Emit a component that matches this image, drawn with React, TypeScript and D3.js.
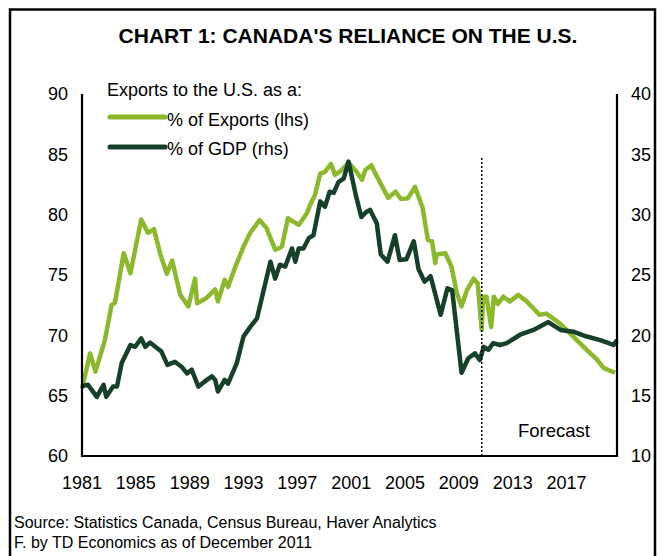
import React from 'react';
import {scaleLinear, line} from 'd3';

const title = "CHART 1: CANADA'S RELIANCE ON THE U.S.";
const yearTicks = [1981, 1985, 1989, 1993, 1997, 2001, 2005, 2009, 2013, 2017];
const leftTicks = [60, 65, 70, 75, 80, 85, 90];
const rightTicks = [10, 15, 20, 25, 30, 35, 40];
const forecastStart = 2010.7;

// % of total exports going to the U.S. (left axis)
const exportsYears = [
  1981.0, 1981.6, 1982.0, 1982.7, 1983.2, 1983.45, 1984.1, 1984.6, 1984.95, 1985.4,
  1985.9, 1986.35, 1986.8, 1987.3, 1987.7, 1988.3, 1988.9, 1989.4, 1989.55, 1990.25,
  1990.9, 1991.1, 1991.6, 1991.85, 1992.35, 1993.0, 1993.5, 1994.2, 1994.7, 1995.35,
  1995.6, 1995.85, 1996.3, 1997.1, 1997.7, 1997.95, 1998.3, 1998.7, 1999.05, 1999.5,
  1999.8, 2000.2, 2000.8, 2001.4, 2001.8, 2002.05, 2002.5, 2002.8, 2003.25, 2003.75,
  2004.3, 2004.7, 2005.2, 2005.75, 2006.3, 2006.7, 2007.0, 2007.25, 2007.35, 2008.0,
  2008.45, 2008.85, 2009.2, 2009.6, 2010.1, 2010.4, 2010.7, 2010.8, 2011.05, 2011.4,
  2011.6, 2011.9, 2012.3, 2012.8, 2013.4, 2014.05, 2015.0, 2015.5, 2016.5, 2017.5,
  2018.5, 2019.25, 2019.75, 2020.6,
];
const exportsShare = [
  65.6, 68.5, 67.0, 69.6, 72.5, 72.7, 76.8, 75.15, 77.1, 79.6,
  78.5, 78.8, 76.8, 75.1, 76.2, 73.35, 72.4, 74.7, 72.65, 73.1,
  73.8, 72.8, 74.6, 74.0, 75.55, 77.35, 78.5, 79.55, 78.9, 77.1,
  77.2, 77.35, 79.7, 79.15, 80.1, 80.8, 81.6, 83.4, 83.55, 84.2,
  83.3, 83.6, 84.3, 83.55, 82.9, 83.7, 84.1, 83.4, 82.45, 81.4,
  81.9, 81.3, 81.35, 82.3, 80.6, 77.9, 77.8, 76.0, 76.7, 76.8,
  75.7, 73.5, 72.4, 73.75, 74.7, 74.3, 70.45, 73.2, 73.2, 70.7,
  73.2, 72.6, 73.2, 72.8, 73.35, 72.8, 71.7, 71.8, 71.0, 69.9,
  68.8, 68.0, 67.3, 66.9,
];

// exports to the U.S. as % of GDP (right axis)
const gdpYears = [
  1981.0, 1981.45, 1982.1, 1982.6, 1982.8, 1983.3, 1983.6, 1983.95, 1984.6, 1984.95,
  1985.4, 1985.7, 1986.05, 1986.4, 1986.9, 1987.35, 1987.9, 1988.4, 1988.8, 1989.15,
  1989.65, 1990.15, 1990.65, 1990.9, 1991.1, 1991.6, 1991.85, 1992.5, 1993.0, 1993.5,
  1994.0, 1994.5, 1995.0, 1995.35, 1995.7, 1996.1, 1996.6, 1996.85, 1997.1, 1997.45,
  1997.85, 1998.2, 1998.7, 1999.05, 1999.4, 1999.7, 2000.05, 2000.45, 2000.8, 2001.35,
  2001.75, 2002.1, 2002.4, 2002.65, 2002.9, 2003.2, 2003.7, 2004.25, 2004.6, 2005.1,
  2005.65, 2006.0, 2006.45, 2006.9, 2007.65, 2008.15, 2008.5, 2009.2, 2009.7, 2010.2,
  2010.55, 2010.85, 2011.2, 2011.55, 2012.05, 2012.55, 2013.55, 2014.55, 2015.65, 2016.55,
  2017.5, 2018.5, 2019.5, 2020.5, 2020.75,
];
const gdpShare = [
  15.8, 15.9, 14.9, 15.9, 14.9, 15.75, 15.75, 17.7, 19.2, 19.05,
  19.75, 19.05, 19.4, 19.1, 18.65, 17.55, 17.8, 17.4, 16.85, 17.15,
  15.75, 16.2, 16.6, 16.3, 15.35, 16.3, 16.0, 17.7, 19.9, 20.7,
  21.4, 23.75, 26.1, 24.7, 25.85, 25.7, 27.2, 26.1, 27.2, 27.2,
  28.05, 28.3, 31.1, 30.65, 31.9, 31.8, 32.7, 33.0, 34.4, 31.6,
  29.8, 30.2, 30.4, 29.85, 29.3, 26.7, 26.1, 28.3, 26.25, 26.3,
  27.8, 25.5, 24.45, 24.9, 21.7, 23.9, 23.75, 16.9, 18.1, 18.5,
  17.95, 19.05, 18.8, 19.35, 19.2, 19.35, 20.05, 20.45, 21.1, 20.45,
  20.3, 19.9, 19.6, 19.2, 19.6,
];

const lightGreen = '#8cb82b';
const darkGreen = '#17402a';
const font = '"Liberation Sans", Arial, sans-serif';

export default function App() {
  const left = 82, right = 617, top = 94, bottom = 456;
  const x = scaleLinear().domain([1981, 2020.75]).range([left, right]);
  const yL = scaleLinear().domain([60, 90]).range([bottom, top]);
  const yR = scaleLinear().domain([10, 40]).range([bottom, top]);

  const exportsLine = line<number>()
    .x((d, i) => x(exportsYears[i]))
    .y(d => yL(d));
  const gdpLine = line<number>()
    .x((d, i) => x(gdpYears[i]))
    .y(d => yR(d));

  return (
    <div style={{position: 'absolute', left: 0, top: 0}}>
      <svg width={662} height={556} style={{display: 'block', background: '#fff'}} fontFamily={font}>
        {/* frame */}
        <rect x={10} y={9.5} width={645} height={600} fill="none" stroke="#000" strokeWidth={2.5} />

        <text x={348} y={43} textAnchor="middle" fontSize={21} fontWeight="bold">{title}</text>

        {/* series */}
        <path d={exportsLine(exportsShare) || ''} fill="none" stroke={lightGreen} strokeWidth={4.5} strokeLinejoin="round" />
        <path d={gdpLine(gdpShare) || ''} fill="none" stroke={darkGreen} strokeWidth={4.5} strokeLinejoin="round" />

        {/* forecast marker */}
        <line x1={x(forecastStart)} x2={x(forecastStart)} y1={158} y2={bottom} stroke="#000" strokeWidth={1.5} strokeDasharray="2,2" />
        <text x={518} y={437} fontSize={18.5}>Forecast</text>

        {/* axes */}
        <path d={`M${left},${top}V${bottom}H${right}V${top}`} fill="none" stroke="#000" strokeWidth={2.2} />

        {leftTicks.map(t => (
          <text key={'l' + t} x={68} y={yL(t)} dy="0.35em" textAnchor="end" fontSize={18}>{t}</text>
        ))}
        {rightTicks.map(t => (
          <text key={'r' + t} x={631} y={yR(t)} dy="0.35em" textAnchor="start" fontSize={18}>{t}</text>
        ))}
        {yearTicks.map(t => (
          <text key={'x' + t} x={x(t)} y={489} textAnchor="middle" fontSize={18}>{t}</text>
        ))}

        {/* legend */}
        <text x={107} y={96} fontSize={18}>Exports to the U.S. as a:</text>
        <line x1={110} x2={165} y1={117} y2={117} stroke={lightGreen} strokeWidth={5} strokeLinecap="round" />
        <text x={167} y={126} fontSize={18}>% of Exports (lhs)</text>
        <line x1={110} x2={165} y1={147} y2={147} stroke={darkGreen} strokeWidth={5} strokeLinecap="round" />
        <text x={167} y={155} fontSize={18}>% of GDP (rhs)</text>

        {/* source */}
        <text x={14} y={528} fontSize={16}>Source: Statistics Canada, Census Bureau, Haver Analytics</text>
        <text x={14} y={548} fontSize={16}>F. by TD Economics as of December 2011</text>
      </svg>
    </div>
  );
}
